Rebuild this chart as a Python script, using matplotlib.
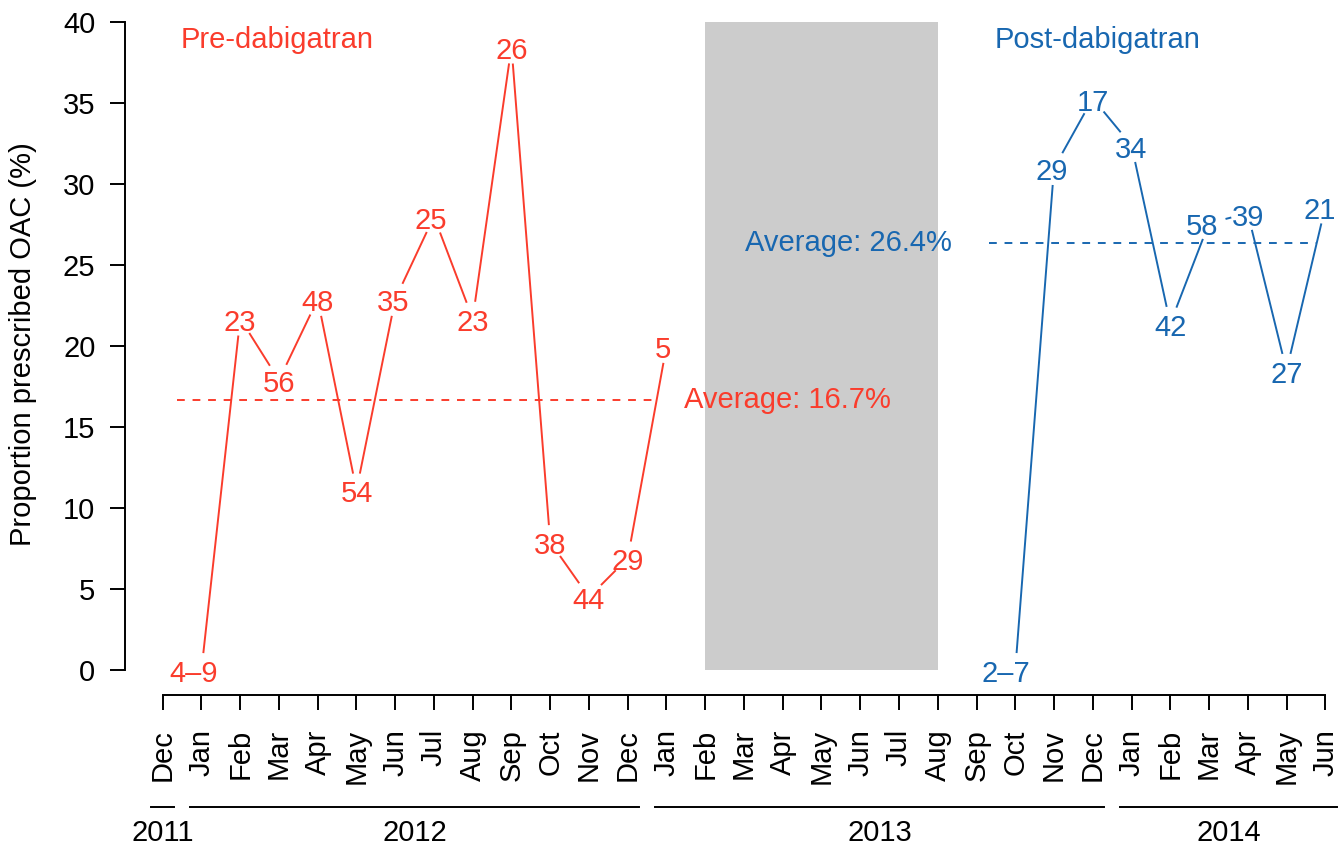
import matplotlib
matplotlib.use("Agg")
import matplotlib.pyplot as plt
import numpy as np
from matplotlib.transforms import blended_transform_factory

plt.rcParams['font.family'] = ['Liberation Sans', 'DejaVu Sans']

# ---------------- data ----------------
months = ["Dec", "Jan", "Feb", "Mar", "Apr", "May", "Jun", "Jul", "Aug", "Sep", "Oct", "Nov",
          "Dec", "Jan", "Feb", "Mar", "Apr", "May", "Jun", "Jul", "Aug", "Sep", "Oct", "Nov",
          "Dec", "Jan", "Feb", "Mar", "Apr", "May", "Jun"]
years = ["2011", "2012", "2013", "2014"]
year_first = [0, 1, 13, 25]
year_last = [0, 12, 24, 30]

pre_months = [1, 2, 3, 4, 5, 6, 7, 8, 9, 10, 11, 12, 13]
pre_values = [0.0, 21.7, 17.9, 22.9, 11.1, 22.9, 28.0, 21.7, 38.5, 7.9, 4.5, 6.9, 20.0]
pre_labels = ["4–9", "23", "56", "48", "54", "35", "25", "23", "26", "38", "44", "29", "5"]

post_months = [22, 23, 24, 25, 26, 27, 28, 29, 30]
post_values = [0.0, 31.0, 35.3, 32.4, 21.4, 27.6, 28.2, 18.5, 28.6]
post_labels = ["2–7", "29", "17", "34", "42", "58", "39", "27", "21"]

pre_avg = 16.7
post_avg = 26.4
pre_avg_span = [0.37, 12.76]
post_avg_span = [21.33, 29.78]
washout = [14, 20]

# label horizontal nudges (pixels)
pre_nudge = [-8, 0, 0, 0, 0, -2, -3, 0, 0, 0, 0, 0, -4]
post_nudge = [-9, -2, 0, 0, 0, -7, 0, 0, -6]

RED = '#FA3C2C'
BLUE = '#1867B0'
FS = 21
LW = 1.4

W, H = 1344, 848
fig = plt.figure(figsize=(W / 100, H / 100), dpi=100)
ax = fig.add_axes([125 / W, 1 - 695 / H, (W - 125) / W, 695 / H])
ax.set_xlim(-0.973, 30.483)
ax.set_ylim(-1.544, 41.377)

for s in ['top', 'right']:
    ax.spines[s].set_visible(False)
ax.spines['left'].set_bounds(0, 40)
ax.spines['bottom'].set_bounds(0, 30)
for s in ['left', 'bottom']:
    ax.spines[s].set_linewidth(LW)

ax.set_yticks(np.arange(0, 41, 5))
ax.set_xticks(np.arange(len(months)))
ax.set_xticklabels(months, rotation=90, va='top', ha='center')
ax.tick_params(axis='both', direction='out', length=10.8, width=LW, labelsize=FS, color='black')
ax.tick_params(axis='y', pad=10.5)
ax.tick_params(axis='x', pad=13.8)

# washout period
ax.axvspan(washout[0], washout[1], ymin=(0 + 1.544) / (41.377 + 1.544),
           ymax=(40 + 1.544) / (41.377 + 1.544), color='#CCCCCC', lw=0, zorder=0)


def gapped(xs, ys, color, r_px=17.0):
    pts = ax.transData.transform(np.column_stack([xs, ys]))
    inv = ax.transData.inverted()
    for p0, p1 in zip(pts[:-1], pts[1:]):
        d = p1 - p0
        L = np.hypot(*d)
        if L <= 2 * r_px:
            continue
        u = d / L
        seg = inv.transform(np.vstack([p0 + u * r_px, p1 - u * r_px]))
        ax.plot(seg[:, 0], seg[:, 1], color=color, lw=LW, solid_capstyle='butt', zorder=2)


def labels(xs, ys, labs, nudges, color):
    for x, y, t, n in zip(xs, ys, labs, nudges):
        ax.annotate(t, (x, y), xytext=(n * 0.72, -3.0), textcoords='offset points',
                    ha='center', va='center', fontsize=FS, color=color, zorder=3)


gapped(pre_months, pre_values, RED)
gapped(post_months, post_values, BLUE)
labels(pre_months, pre_values, pre_labels, pre_nudge, RED)
labels(post_months, post_values, post_labels, post_nudge, BLUE)

# averages
ax.plot(pre_avg_span, [pre_avg, pre_avg], color=RED, lw=LW, ls=(0, (4, 4)), zorder=2)
ax.plot(post_avg_span, [post_avg, post_avg], color=BLUE, lw=LW, ls=(0, (4, 4)), zorder=2)
ax.text(13.44, pre_avg, f"Average: {pre_avg}%", color=RED, fontsize=FS, ha='left', va='center', zorder=3)
ax.text(20.36, post_avg, f"Average: {post_avg}%", color=BLUE, fontsize=FS, ha='right', va='center', zorder=3)

ax.text(2.96, 38.9, "Pre-dabigatran", color=RED, fontsize=FS, ha='center', va='center')
ax.text(24.12, 38.9, "Post-dabigatran", color=BLUE, fontsize=FS, ha='center', va='center')

# year brackets
tr = blended_transform_factory(ax.transData, fig.transFigure)
for yr, a, b in zip(years, year_first, year_last):
    ax.plot([a - 0.3, b + 0.3], [1 - 806.7 / H] * 2, color='black', lw=LW, transform=tr, clip_on=False)
    ax.text((a + b) / 2, 1 - 833 / H, yr, transform=tr, ha='center', va='center', fontsize=FS)

fig.text(23 / W, 1 - 344 / H, "Proportion prescribed OAC (%)", rotation=90,
         ha='center', va='center', fontsize=FS)

fig.savefig("out.png", dpi=100)
